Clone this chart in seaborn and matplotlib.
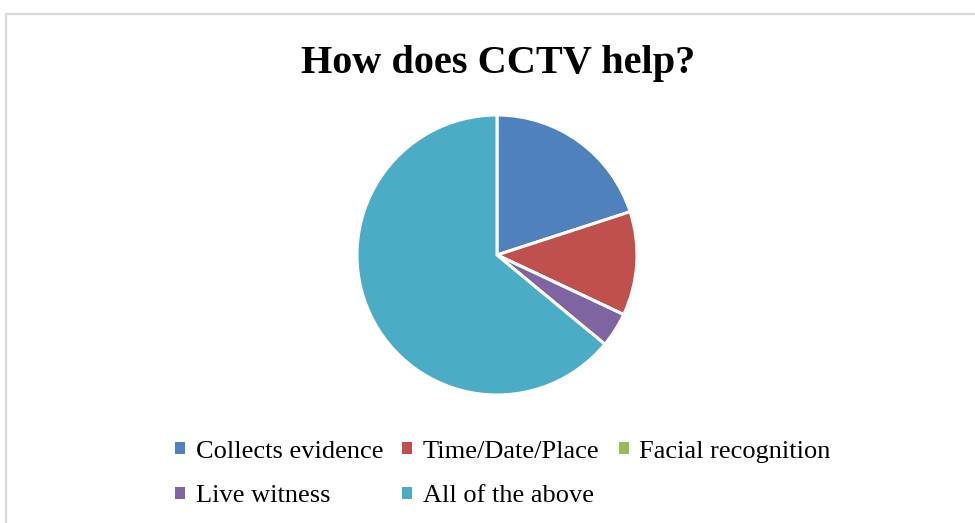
import matplotlib
matplotlib.use("Agg")
import matplotlib.pyplot as plt
from matplotlib.patches import Rectangle, Patch
import seaborn as sns

# Survey answers: how CCTV helps
categories = ["Collects evidence", "Time/Date/Place", "Facial recognition",
              "Live witness", "All of the above"]
responses = [10, 6, 0, 2, 32]
colors = ["#4F81BD", "#C0504D", "#9BBB59", "#8064A2", "#4BACC6"]

sns.set_theme(style="white")
plt.rcParams["font.family"] = ["Liberation Serif", "DejaVu Serif"]
palette = sns.color_palette(colors)

W, H = 975, 523
fig = plt.figure(figsize=(W / 100, H / 100), dpi=100)
fig.patch.set_facecolor("white")

# chart frame (light grey, open at right/bottom edges)
fig.patches.append(Rectangle((5.5 / W, -0.1), 1.2, 1 - 14.5 / H + 0.1,
                             transform=fig.transFigure, fill=False,
                             edgecolor="#d9d9d9", linewidth=1.6))

# pie axes: centre (497, 255) px, radius 140 px
cx, cy, r = 497, 255, 140
ax = fig.add_axes([(cx - r) / W, (H - cy - r) / H, 2 * r / W, 2 * r / H])
wedges, _ = ax.pie(responses, colors=palette, startangle=90, counterclock=False,
                   radius=1, wedgeprops=dict(edgecolor="white", linewidth=2.2))
ax.set_xlim(-1, 1)
ax.set_ylim(-1, 1)
ax.set_aspect("equal")
ax.axis("off")

fig.text(498 / W, 1 - 73.5 / H, "How does CCTV help?", ha="center", va="baseline",
         fontsize=29, fontweight="bold", color="black")

# legend: two rows, column-major ordering for ncol=3
handles = [Patch(facecolor=c, edgecolor="none") for c in palette]
order = [0, 3, 1, 4, 2]
leg = fig.legend([handles[i] for i in order], [categories[i] for i in order],
                 ncol=3, loc="center", bbox_to_anchor=(503 / W, 1 - 474 / H),
                 frameon=False, fontsize=19, handlelength=0.38, handleheight=0.3,
                 handletextpad=0.4, columnspacing=0.72, labelspacing=0.85)
for t in leg.get_texts():
    t.set_color("black")

fig.savefig("out.png", dpi=100, facecolor="white")
